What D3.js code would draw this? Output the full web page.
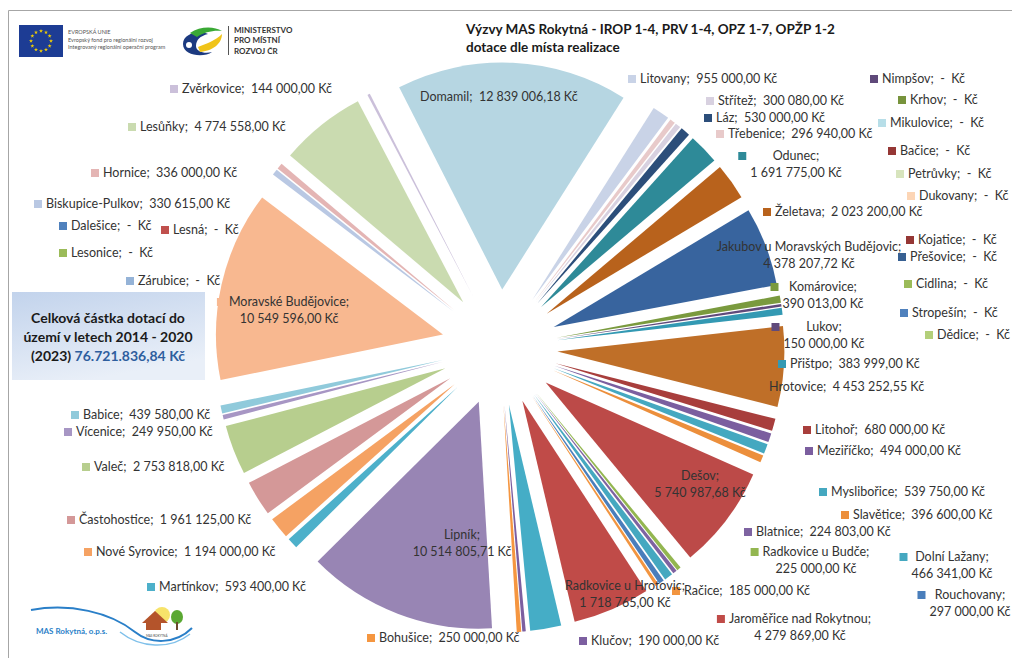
<!DOCTYPE html>
<html>
<head>
<meta charset="utf-8">
<script src="https://cdn.jsdelivr.net/npm/d3@7"></script>
<style>
  body { margin: 0; background: #fff; }
  svg text { font-family: Lato, "Open Sans", sans-serif; }
</style>
</head>
<body>
<svg id="chart" width="1012" height="658"></svg>
<script>
// municipalities in clockwise order, starting with Domamil
const names = [
  "Domamil", "Litovany", "Třebenice", "Střítež", "Láz", "Odunec", "Želetava",
  "Jakubov u Moravských Budějovic", "Komárovice", "Lukov", "Přištpo", "Hrotovice",
  "Litohoř", "Meziříčko", "Myslibořice", "Slavětice", "Dešov", "Radkovice u Budče",
  "Blatnice", "Dolní Lažany", "Rouchovany", "Račice", "Jaroměřice nad Rokytnou",
  "Radkovice u Hrotovic", "Klučov", "Bohušice", "Lipník", "Martínkov", "Nové Syrovice",
  "Častohostice", "Valeč", "Vícenice", "Babice", "Moravské Budějovice", "Zárubice",
  "Lesonice", "Lesná", "Dalešice", "Biskupice-Pulkov", "Hornice", "Lesůňky", "Zvěrkovice",
  "Nimpšov", "Krhov", "Mikulovice", "Bačice", "Petrůvky", "Dukovany", "Kojatice",
  "Přešovice", "Cidlina", "Stropešín", "Dědice"
];
const values = [
  12839006.18, 955000, 296940, 300080, 530000, 1691775, 2023200,
  4378207.72, 390013, 150000, 383999, 4453252.55,
  680000, 494000, 539750, 396600, 5740987.68, 225000,
  224803, 466341, 297000, 185000, 4279869,
  1718765, 190000, 250000, 10514805.71, 593400, 1194000,
  1961125, 2753818, 249950, 439580, 10549596, 0,
  0, 0, 0, 330615, 336000, 4774558, 144000,
  0, 0, 0, 0, 0, 0, 0,
  0, 0, 0, 0
];
const colors = [
  "#b6d6e2", "#c9d3e7", "#e8caca", "#d8d1e0", "#2c4e7a", "#2e8a98", "#b8621c",
  "#38649e", "#7a9a3e", "#604a7b", "#3399b3", "#bf6f28",
  "#a83e3c", "#7b5e9f", "#45a8c0", "#ec8f3c", "#bc4a48", "#93b650",
  "#7e63a1", "#45a8c0", "#4a7ebb", "#f29540", "#c04b48",
  "#45adc6", "#7c5fa0", "#f59640", "#9885b4", "#4db0ca", "#f5a263",
  "#d49898", "#b7ce8e", "#a796c4", "#90cadb", "#f8b890", "#95b3d7",
  "#9bbb59", "#c0504d", "#4f81bd", "#b9c8e3", "#e4b5b4", "#cadbb0", "#cbc0da",
  "#5f497a", "#77933c", "#b7dee8", "#953735", "#d7e4bd", "#fcd5b5", "#953735",
  "#376092", "#9bbb59", "#4f81bd", "#b3cf7a"
];
const titleLines = ["Výzvy MAS Rokytná - IROP 1-4, PRV 1-4, OPZ 1-7, OPŽP 1-2", "dotace dle místa realizace"];
const totalLines = ["Celková částka dotací do", "území v letech 2014 - 2020"];
const totalYear = "(2023) ";
const totalValue = "76.721.836,84 Kč";

// label placement (hand-arranged, like the original)
// two: name and value on two centred lines, m:false hides the key
const labelLayout = {
  "Domamil": {x: 420, y: 97, m: false},
  "Litovany": {x: 640, y: 79},
  "Třebenice": {x: 728, y: 134},
  "Střítež": {x: 718, y: 101},
  "Láz": {x: 716, y: 118},
  "Odunec": {x: 796, y: 156, two: true},
  "Želetava": {x: 775, y: 212},
  "Jakubov u Moravských Budějovic": {x: 809, y: 247, two: true, m: false},
  "Komárovice": {x: 823, y: 287, two: true},
  "Lukov": {x: 824, y: 327, two: true},
  "Přištpo": {x: 790, y: 364},
  "Hrotovice": {x: 769, y: 387, m: false},
  "Litohoř": {x: 815, y: 430},
  "Meziříčko": {x: 817, y: 451},
  "Myslibořice": {x: 831, y: 492},
  "Slavětice": {x: 853, y: 515},
  "Dešov": {x: 700, y: 476, two: true, m: false},
  "Radkovice u Budče": {x: 816, y: 552, two: true},
  "Blatnice": {x: 756, y: 532},
  "Dolní Lažany": {x: 952, y: 557, two: true},
  "Rouchovany": {x: 970, y: 595, two: true},
  "Račice": {x: 684, y: 591},
  "Jaroměřice nad Rokytnou": {x: 800, y: 619, two: true},
  "Radkovice u Hrotovic": {x: 625, y: 586, two: true, m: false},
  "Klučov": {x: 591, y: 641},
  "Bohušice": {x: 379, y: 638},
  "Lipník": {x: 462, y: 535, two: true, m: false},
  "Martínkov": {x: 159, y: 587},
  "Nové Syrovice": {x: 96, y: 552},
  "Častohostice": {x: 79, y: 520},
  "Valeč": {x: 94, y: 467},
  "Vícenice": {x: 76, y: 432},
  "Babice": {x: 83, y: 415},
  "Moravské Budějovice": {x: 289, y: 302, two: true},
  "Zárubice": {x: 138, y: 281},
  "Lesonice": {x: 71, y: 253},
  "Lesná": {x: 173, y: 230},
  "Dalešice": {x: 71, y: 226},
  "Biskupice-Pulkov": {x: 46, y: 204},
  "Hornice": {x: 103, y: 173},
  "Lesůňky": {x: 140, y: 127},
  "Zvěrkovice": {x: 182, y: 89},
  "Nimpšov": {x: 882, y: 79},
  "Krhov": {x: 910, y: 100},
  "Mikulovice": {x: 890, y: 123},
  "Bačice": {x: 900, y: 151},
  "Petrůvky": {x: 908, y: 174},
  "Dukovany": {x: 919, y: 196},
  "Kojatice": {x: 918, y: 240},
  "Přešovice": {x: 910, y: 257},
  "Cidlina": {x: 916, y: 284},
  "Stropešín": {x: 912, y: 313},
  "Dědice": {x: 937, y: 335}
};

const svg = d3.select("#chart");
const cx = 499.5, cy = 347.5, radius = 227, explode = 58;
const startAngle = -27 * Math.PI / 180;

const cz = d3.formatLocale({decimal: ",", thousands: "\u00a0", grouping: [3], currency: ["", " Kč"]});
const money = cz.format(",.2f");
const fmtValue = v => v ? money(v) + " Kč" : "-  Kč";

// frame
svg.append("path").attr("d", "M8.5,658V10.5H1012").attr("fill", "none").attr("stroke", "#a6a6a6");

// exploded pie
const data = names.map((n, i) => ({name: n, value: values[i], color: colors[i]}));
const pie = d3.pie().sort(null).value(d => d.value)
  .startAngle(startAngle).endAngle(startAngle + 2 * Math.PI);
const arc = d3.arc().innerRadius(0).outerRadius(radius);

svg.append("g").selectAll("path")
  .data(pie(data).filter(d => d.value > 0))
  .join("path")
  .attr("transform", d => {
    const m = (d.startAngle + d.endAngle) / 2;
    return "translate(" + (cx + explode * Math.sin(m)) + "," + (cy - explode * Math.cos(m)) + ")";
  })
  .attr("d", arc)
  .attr("fill", d => d.data.color);

// data labels
const lab = svg.append("g").attr("font-size", 12.5).attr("fill", "#333");
data.forEach(d => {
  const L = labelLayout[d.name];
  if (!L) return;
  let keyX;
  if (L.two) {
    const t1 = lab.append("text").attr("x", L.x).attr("y", L.y).attr("dy", "0.35em")
      .attr("text-anchor", "middle").text(d.name + ";");
    const t2 = lab.append("text").attr("x", L.x).attr("y", L.y + 17).attr("dy", "0.35em")
      .attr("text-anchor", "middle").style("white-space", "pre").text(fmtValue(d.value));
    const w = Math.max(t1.node().getComputedTextLength(), t2.node().getComputedTextLength());
    keyX = L.x - w / 2 - 12;
  } else {
    lab.append("text").attr("x", L.x).attr("y", L.y).attr("dy", "0.35em")
      .style("white-space", "pre").text(d.name + ";  " + fmtValue(d.value));
    keyX = L.x - 12;
  }
  if (L.m !== false) {
    lab.append("rect").attr("x", keyX).attr("y", L.y - 4).attr("width", 8).attr("height", 8)
      .attr("fill", d.color);
  }
});

// title
svg.append("g").selectAll("text").data(titleLines).join("text")
  .attr("x", 466).attr("y", (d, i) => 29 + i * 18).attr("dy", "0.35em")
  .attr("font-size", 13.5).attr("font-weight", "bold").attr("fill", "#1a1a1a")
  .text(d => d);

// total box
const grad = svg.append("defs").append("linearGradient").attr("id", "boxg")
  .attr("x1", 0).attr("y1", 0).attr("x2", 0.4).attr("y2", 1);
grad.append("stop").attr("offset", 0).attr("stop-color", "#c2d3ec");
grad.append("stop").attr("offset", 1).attr("stop-color", "#e9eff8");
svg.append("rect").attr("x", 12).attr("y", 292).attr("width", 193).attr("height", 88)
  .attr("fill", "url(#boxg)");
const box = svg.append("g").attr("font-size", 14).attr("font-weight", "bold").attr("fill", "#1a1a1a")
  .attr("text-anchor", "middle");
totalLines.forEach((s, i) => box.append("text").attr("x", 108).attr("y", 318 + i * 19).attr("dy", "0.35em").text(s));
const last = box.append("text").attr("x", 108).attr("y", 356).attr("dy", "0.35em").style("white-space", "pre");
last.append("tspan").text(totalYear);
last.append("tspan").attr("fill", "#2e5e9e").text(totalValue);

// EU logo
const eu = svg.append("g");
eu.append("rect").attr("x", 19).attr("y", 25).attr("width", 44).attr("height", 32).attr("fill", "#1d3c94");
d3.range(12).forEach(k => {
  const a = k * Math.PI / 6;
  eu.append("path").attr("d", d3.symbol(d3.symbolStar, 5)())
    .attr("transform", "translate(" + (41 + 10 * Math.sin(a)) + "," + (41 - 10 * Math.cos(a)) + ")")
    .attr("fill", "#f4d000");
});
const euText = ["EVROPSKÁ UNIE", "Evropský fond pro regionální rozvoj", "Integrovaný regionální operační program"];
eu.selectAll("text").data(euText).join("text")
  .attr("x", 68).attr("y", (d, i) => 34 + i * 7.5).attr("font-size", 5.5).attr("fill", "#555").text(d => d);

// MMR logo
const mmr = svg.append("g");
mmr.append("path").attr("d", "M183,44 C183,33 200,30 208,34 C200,36 196,40 196,46 C196,52 205,54 212,52 C204,58 183,56 183,44Z")
  .attr("fill", "#1c3a80");
mmr.append("circle").attr("cx", 189).attr("cy", 45).attr("r", 3).attr("fill", "#fff");
mmr.append("path").attr("d", "M190,33 C200,26 214,26 222,31 C214,30 204,32 197,37 Z").attr("fill", "#3aa935");
mmr.append("path").attr("d", "M198,47 C206,44 216,40 222,34 C222,44 212,51 200,52 Z").attr("fill", "#f0c419");
mmr.append("line").attr("x1", 228.5).attr("x2", 228.5).attr("y1", 26).attr("y2", 55).attr("stroke", "#555");
mmr.selectAll("text").data(["MINISTERSTVO", "PRO MÍSTNÍ", "ROZVOJ ČR"]).join("text")
  .attr("x", 234).attr("y", (d, i) => 30 + i * 10.5).attr("dy", "0.35em")
  .attr("font-size", 8).attr("font-weight", "bold").attr("fill", "#333").text(d => d);

// MAS Rokytná logo
const mas = svg.append("g");
mas.append("path").attr("d", "M31,610 C70,603 110,612 135,632 C150,644 175,645 192,628")
  .attr("fill", "none").attr("stroke", "#2a7fc8").attr("stroke-width", 2);
mas.append("path").attr("d", "M120,632 C140,648 170,650 190,634")
  .attr("fill", "none").attr("stroke", "#7fc0ea").attr("stroke-width", 1.5);
mas.append("circle").attr("cx", 162).attr("cy", 615).attr("r", 8).attr("fill", "#f7e36a");
mas.append("path").attr("d", "M142,623 L155,611 L168,623 Z").attr("fill", "#b4542b");
mas.append("rect").attr("x", 146).attr("y", 622).attr("width", 15).attr("height", 8).attr("fill", "#b4542b");
mas.append("ellipse").attr("cx", 177).attr("cy", 617).attr("rx", 6).attr("ry", 7).attr("fill", "#5aa832");
mas.append("rect").attr("x", 176).attr("y", 622).attr("width", 2).attr("height", 8).attr("fill", "#6b4a2b");
mas.append("text").attr("x", 36).attr("y", 634).attr("font-size", 8).attr("font-weight", "bold")
  .attr("fill", "#2a7fc8").text("MAS Rokytná, o.p.s.");
mas.append("text").attr("x", 146).attr("y", 637).attr("font-size", 3).attr("fill", "#444").text("MAS ROKYTNÁ");
</script>
</body>
</html>
